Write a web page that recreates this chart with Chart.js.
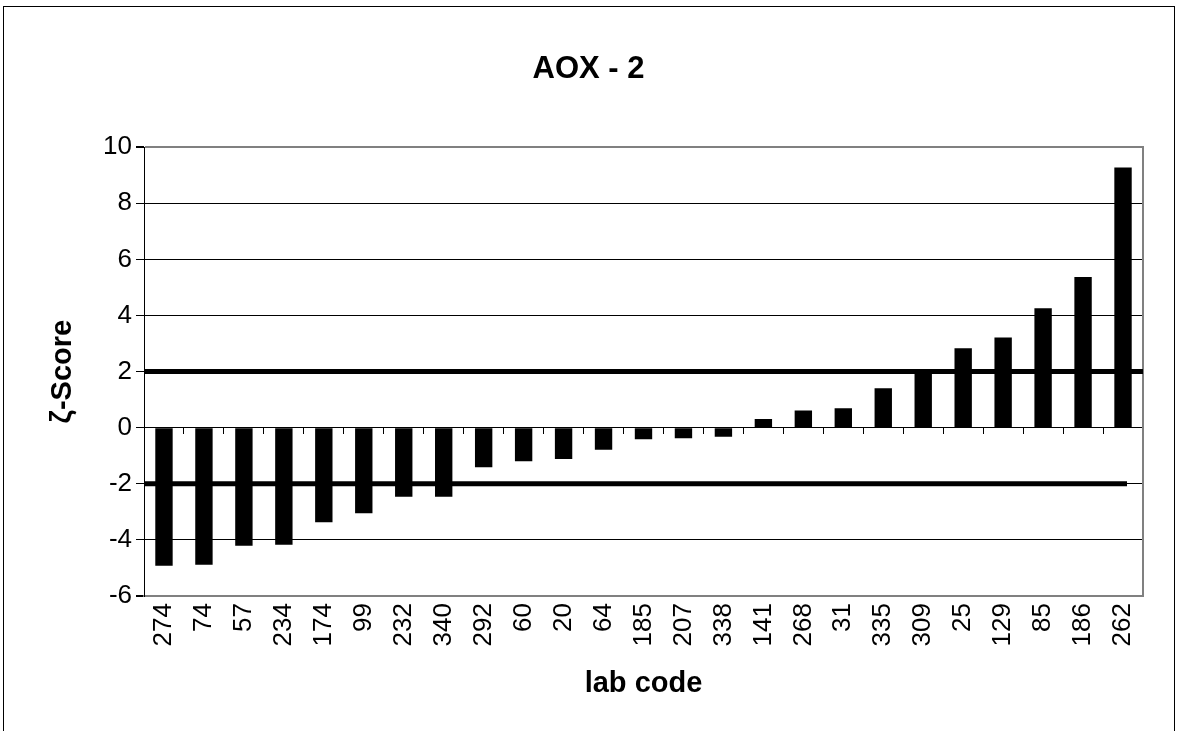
<!DOCTYPE html>
<html>
<head>
<meta charset="utf-8">
<script src="https://cdn.jsdelivr.net/npm/chart.js@4.4.1/dist/chart.umd.min.js"></script>
<style>
  html, body { margin: 0; padding: 0; background: #fff; overflow: hidden; }
  #wrap { position: relative; width: 1177px; height: 731px; }
  #frame {
    position: absolute; left: 3px; top: 6px; width: 1170px; height: 800px;
    border: 1.5px solid #000; pointer-events: none;
  }
</style>
</head>
<body>
<div id="wrap">
  <canvas id="chart" width="1177" height="731"></canvas>
  <div id="frame"></div>
</div>
<script>
// lab codes, sorted by score
const labCodes = ['274', '74', '57', '234', '174', '99', '232', '340', '292', '60', '20', '64',
  '185', '207', '338', '141', '268', '31', '335', '309', '25', '129', '85', '186', '262'];

// zeta scores
const zetaScores = [-4.92, -4.89, -4.21, -4.17, -3.37, -3.05, -2.46, -2.46, -1.41, -1.20, -1.12, -0.79,
  -0.41, -0.38, -0.32, 0.31, 0.61, 0.69, 1.41, 2.03, 2.83, 3.22, 4.26, 5.37, 9.28];

// limit lines (+2 / -2), x in category units along the axis
const upperLimitX = [0, 25];
const upperLimitY = [2, 2];
const lowerLimitX = [0, 24.6];
const lowerLimitY = [-2, -2];

const yTicks = { min: -6, max: 10, step: 2 };

const FONT = "'Liberation Sans', Arial, sans-serif";
const GREY = '#808080';

const toPoints = (xs, ys) => xs.map((x, i) => ({ x, y: ys[i] }));

new Chart(document.getElementById('chart'), {
  type: 'bar',
  data: {
    labels: labCodes,
    datasets: [
      {
        type: 'line',
        data: toPoints(upperLimitX, upperLimitY),
        xAxisID: 'x2',
        borderColor: '#000',
        borderWidth: 5,
        pointRadius: 0,
        fill: false,
      },
      {
        type: 'line',
        data: toPoints(lowerLimitX, lowerLimitY),
        xAxisID: 'x2',
        borderColor: '#000',
        borderWidth: 5,
        pointRadius: 0,
        fill: false,
      },
      {
        data: zetaScores,
        xAxisID: 'x',
        backgroundColor: '#000',
        borderWidth: 0,
        grouped: false,
        barPercentage: 0.435,
        categoryPercentage: 1,
      },
    ],
  },
  options: {
    responsive: false,
    animation: false,
    devicePixelRatio: 1,
    layout: { padding: 0 },
    plugins: {
      legend: { display: false },
      tooltip: { enabled: false },
      title: {
        display: true,
        text: 'AOX - 2',
        color: '#000',
        font: { family: FONT, size: 31, weight: 'bold' },
        padding: { top: 51, bottom: 59 },
      },
    },
    scales: {
      x: {
        position: 'bottom',
        offset: true,
        afterFit: (s) => { s.height = 135; },
        grid: { drawOnChartArea: false, drawTicks: false },
        border: { color: GREY, width: 2 },
        ticks: {
          color: '#000',
          font: { family: FONT, size: 26 },
          minRotation: 90,
          maxRotation: 90,
          autoSkip: false,
          padding: 7,
        },
        title: {
          display: true,
          text: 'lab code',
          color: '#000',
          font: { family: FONT, size: 29, weight: 'bold' },
          padding: { top: 4, bottom: 30 },
        },
      },
      xz: {
        type: 'category',
        position: { y: 0 },
        offset: true,
        grid: { drawOnChartArea: false, offset: true, tickLength: 6, tickColor: '#000' },
        border: { color: '#000', width: 1 },
        ticks: { display: false },
      },
      x2: {
        type: 'linear',
        display: false,
        offset: false,
        min: 0,
        max: 25,
      },
      y: {
        position: 'left',
        min: yTicks.min,
        max: yTicks.max,
        afterFit: (s) => { s.width = 144; },
        grid: {
          color: (c) => (c.tick && (c.tick.value === yTicks.max || c.tick.value === yTicks.min) ? GREY : '#000'),
          lineWidth: (c) => (c.tick && (c.tick.value === yTicks.max || c.tick.value === yTicks.min) ? 2 : 1),
          tickColor: '#000',
          tickLength: 8,
        },
        border: { color: '#000', width: 1 },
        ticks: {
          stepSize: yTicks.step,
          color: '#000',
          font: { family: FONT, size: 26 },
          padding: 4,
        },
        title: {
          display: true,
          text: 'ζ-Score',
          color: '#000',
          font: { family: FONT, size: 29, weight: 'bold' },
          padding: { top: 46, bottom: 4 },
        },
      },
      y2: {
        position: 'right',
        min: yTicks.min,
        max: yTicks.max,
        afterFit: (s) => { s.width = 34; },
        grid: { drawOnChartArea: false, drawTicks: false },
        border: { color: GREY, width: 2 },
        ticks: { display: false },
      },
    },
  },
});
</script>
</body>
</html>
